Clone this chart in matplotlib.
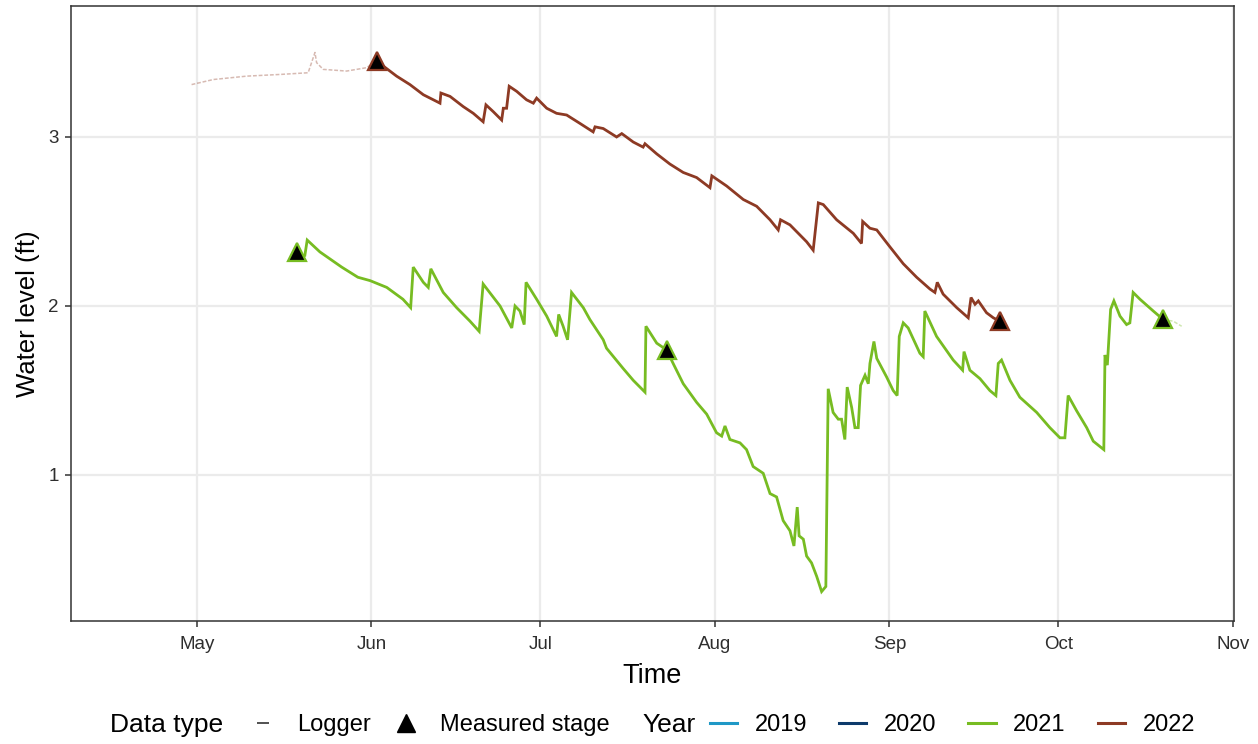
import numpy as np
import pandas as pd
import matplotlib
matplotlib.use("Agg")
import matplotlib.pyplot as plt
import matplotlib.dates as mdates
from matplotlib.lines import Line2D

plt.rcParams['font.family'] = ['Liberation Sans', 'DejaVu Sans']

# Logger record, 2021 season
logger_2021_time = [
    "2021-05-20 04:00", "2021-05-20 14:00", "2021-05-22 20:00", "2021-05-26 17:00",
    "2021-05-29 14:00", "2021-05-31 18:00", "2021-06-03 17:00", "2021-06-06 14:00",
    "2021-06-07 23:00", "2021-06-08 10:00", "2021-06-10 05:00", "2021-06-11 02:00",
    "2021-06-11 13:00", "2021-06-13 18:00", "2021-06-16 03:00", "2021-06-18 12:00",
    "2021-06-20 03:00", "2021-06-20 20:00", "2021-06-23 20:00", "2021-06-25 22:00",
    "2021-06-26 12:00", "2021-06-27 09:00", "2021-06-28 03:00", "2021-06-28 11:00",
    "2021-06-30 08:00", "2021-07-02 03:00", "2021-07-03 21:00", "2021-07-04 06:00",
    "2021-07-05 01:00", "2021-07-05 20:00", "2021-07-06 13:00", "2021-07-08 15:00",
    "2021-07-09 19:00", "2021-07-12 04:00", "2021-07-12 18:00", "2021-07-15 17:00",
    "2021-07-17 12:00", "2021-07-19 14:00", "2021-07-19 18:00", "2021-07-21 16:00",
    "2021-07-23 10:00", "2021-07-24 14:00", "2021-07-26 09:00", "2021-07-28 18:00",
    "2021-07-30 13:00", "2021-08-01 07:00", "2021-08-02 05:00", "2021-08-02 19:00",
    "2021-08-03 16:00", "2021-08-05 11:00", "2021-08-06 15:00", "2021-08-07 19:00",
    "2021-08-09 14:00", "2021-08-10 19:00", "2021-08-11 23:00", "2021-08-13 03:00",
    "2021-08-14 08:00", "2021-08-15 01:00", "2021-08-15 15:00", "2021-08-15 23:00",
    "2021-08-16 17:00", "2021-08-17 07:00", "2021-08-18 04:00", "2021-08-19 02:00",
    "2021-08-19 23:00", "2021-08-20 17:00", "2021-08-21 03:00", "2021-08-22 00:00",
    "2021-08-22 22:00", "2021-08-23 12:00", "2021-08-24 02:00", "2021-08-24 12:00",
    "2021-08-25 07:00", "2021-08-25 21:00", "2021-08-26 11:00", "2021-08-26 21:00",
    "2021-08-27 16:00", "2021-08-28 06:00", "2021-08-28 13:00", "2021-08-29 06:00",
    "2021-08-29 18:00", "2021-08-31 12:00", "2021-09-01 16:00", "2021-09-02 09:00",
    "2021-09-02 18:00", "2021-09-03 11:00", "2021-09-04 08:00", "2021-09-06 10:00",
    "2021-09-07 00:00", "2021-09-07 07:00", "2021-09-09 09:00", "2021-09-12 08:00",
    "2021-09-14 00:00", "2021-09-14 06:00", "2021-09-15 07:00", "2021-09-17 02:00",
    "2021-09-18 20:00", "2021-09-19 22:00", "2021-09-20 08:00", "2021-09-20 22:00",
    "2021-09-22 10:00", "2021-09-24 04:00", "2021-09-27 04:00", "2021-09-29 12:00",
    "2021-10-01 07:00", "2021-10-02 04:00", "2021-10-02 18:00", "2021-10-04 06:00",
    "2021-10-06 01:00", "2021-10-07 05:00", "2021-10-09 02:00", "2021-10-09 07:00",
    "2021-10-09 17:00", "2021-10-10 07:00", "2021-10-10 21:00", "2021-10-11 23:00",
    "2021-10-13 03:00", "2021-10-13 17:00", "2021-10-14 07:00", "2021-10-15 12:00",
    "2021-10-17 21:00", "2021-10-19 15:00", "2021-10-21 10:00", "2021-10-22 22:00",
]
logger_2021_level = [
    2.30, 2.39, 2.32, 2.23, 2.17, 2.15, 2.11, 2.04,
    1.99, 2.23, 2.14, 2.11, 2.22, 2.08, 1.99, 1.91,
    1.85, 2.13, 2.00, 1.87, 2.00, 1.97, 1.89, 2.14,
    2.04, 1.94, 1.82, 1.95, 1.88, 1.80, 2.08, 1.99,
    1.92, 1.80, 1.75, 1.63, 1.56, 1.49, 1.88, 1.78,
    1.74, 1.66, 1.54, 1.43, 1.36, 1.25, 1.23, 1.29,
    1.21, 1.19, 1.15, 1.05, 1.01, 0.89, 0.87, 0.73,
    0.67, 0.58, 0.81, 0.64, 0.62, 0.52, 0.48, 0.40,
    0.31, 0.34, 1.51, 1.37, 1.33, 1.33, 1.21, 1.52,
    1.40, 1.28, 1.28, 1.53, 1.59, 1.54, 1.66, 1.79,
    1.69, 1.58, 1.50, 1.47, 1.82, 1.90, 1.87, 1.72,
    1.70, 1.97, 1.82, 1.68, 1.62, 1.73, 1.62, 1.57,
    1.50, 1.47, 1.66, 1.68, 1.56, 1.46, 1.37, 1.28,
    1.22, 1.22, 1.47, 1.38, 1.28, 1.20, 1.15, 1.71,
    1.65, 1.98, 2.03, 1.94, 1.89, 1.90, 2.08, 2.04,
    1.97, 1.92, 1.91, 1.88,
]

# Logger record, 2022 season
logger_2022_time = [
    "2022-04-30 01:00", "2022-05-03 22:00", "2022-05-09 20:00", "2022-05-15 18:00",
    "2022-05-20 18:00", "2022-05-21 23:00", "2022-05-22 06:00", "2022-05-23 10:00",
    "2022-05-27 14:00", "2022-05-31 03:00", "2022-06-01 22:00", "2022-06-03 02:00",
    "2022-06-05 11:00", "2022-06-07 20:00", "2022-06-10 05:00", "2022-06-12 14:00",
    "2022-06-13 04:00", "2022-06-13 08:00", "2022-06-14 23:00", "2022-06-17 07:00",
    "2022-06-19 02:00", "2022-06-20 20:00", "2022-06-21 08:00", "2022-06-22 15:00",
    "2022-06-24 03:00", "2022-06-24 10:00", "2022-06-25 00:00", "2022-06-25 11:00",
    "2022-06-26 19:00", "2022-06-28 13:00", "2022-06-29 18:00", "2022-06-30 08:00",
    "2022-07-02 03:00", "2022-07-03 21:00", "2022-07-05 16:00", "2022-07-08 01:00",
    "2022-07-10 09:00", "2022-07-10 17:00", "2022-07-12 04:00", "2022-07-14 13:00",
    "2022-07-15 11:00", "2022-07-17 12:00", "2022-07-19 06:00", "2022-07-19 14:00",
    "2022-07-21 16:00", "2022-07-24 00:00", "2022-07-26 09:00", "2022-07-28 18:00",
    "2022-07-31 03:00", "2022-07-31 11:00", "2022-08-03 02:00", "2022-08-06 01:00",
    "2022-08-08 10:00", "2022-08-10 19:00", "2022-08-12 06:00", "2022-08-12 16:00",
    "2022-08-14 08:00", "2022-08-17 07:00", "2022-08-18 11:00", "2022-08-19 09:00",
    "2022-08-20 06:00", "2022-08-22 15:00", "2022-08-25 14:00", "2022-08-27 01:00",
    "2022-08-27 06:00", "2022-08-28 13:00", "2022-08-29 18:00", "2022-09-01 02:00",
    "2022-09-03 11:00", "2022-09-05 20:00", "2022-09-08 05:00", "2022-09-09 02:00",
    "2022-09-09 12:00", "2022-09-10 13:00", "2022-09-12 23:00", "2022-09-15 00:00",
    "2022-09-15 12:00", "2022-09-16 05:00", "2022-09-16 19:00", "2022-09-18 06:00",
    "2022-09-19 11:00", "2022-09-20 15:00",
]
logger_2022_level = [
    3.31, 3.34, 3.36, 3.37, 3.38, 3.50, 3.44, 3.40,
    3.39, 3.41, 3.45, 3.42, 3.36, 3.31, 3.25, 3.21,
    3.20, 3.26, 3.24, 3.18, 3.14, 3.09, 3.19, 3.15,
    3.10, 3.17, 3.17, 3.30, 3.27, 3.22, 3.20, 3.23,
    3.17, 3.14, 3.13, 3.08, 3.03, 3.06, 3.05, 3.00,
    3.02, 2.97, 2.94, 2.96, 2.90, 2.84, 2.79, 2.76,
    2.70, 2.77, 2.71, 2.63, 2.59, 2.51, 2.45, 2.51,
    2.48, 2.38, 2.33, 2.61, 2.60, 2.51, 2.43, 2.37,
    2.50, 2.46, 2.45, 2.35, 2.25, 2.17, 2.10, 2.08,
    2.14, 2.07, 1.99, 1.93, 2.05, 2.01, 2.03, 1.96,
    1.93, 1.91,
]

# Staff gauge readings
stage_2021_time = ["2021-05-18 17:00", "2021-07-23 10:00", "2021-10-19 15:00"]
stage_2021_level = [2.32, 1.74, 1.92]
stage_2022_time = ["2022-06-01 22:00", "2022-09-20 15:00"]
stage_2022_level = [3.45, 1.91]

years = ["2019", "2020", "2021", "2022"]
year_colors = {"2019": "#1f98c6", "2020": "#0d3a6b", "2021": "#77bc22", "2022": "#8d3a24"}


def season(times):
    # put every year on one common calendar so seasons overlay
    t = pd.to_datetime(pd.Series(times))
    return t.map(lambda d: d.replace(year=2000))


fig = plt.figure(figsize=(12.58, 7.44), dpi=100)
ax = fig.add_axes([71 / 1258, 1 - 621 / 744, 1163 / 1258, 615 / 744])

series = {
    "2021": (logger_2021_time, logger_2021_level, stage_2021_time, stage_2021_level),
    "2022": (logger_2022_time, logger_2022_level, stage_2022_time, stage_2022_level),
}

for yr, (lt, lv, st, sv) in series.items():
    col = year_colors[yr]
    t = season(lt)
    v = np.array(lv)
    ts = season(st)
    first, last = ts.min(), ts.max()
    inside = ((t >= first) & (t <= last)).values
    before = (t <= first).values
    after = (t >= last).values
    # logger data outside the gauged window is faded
    for mask in (before, after):
        if mask.sum() > 1:
            ax.plot(t[mask], v[mask], color=col, lw=1.1, alpha=0.35,
                    ls=(0, (2.5, 1.2)), zorder=2)
    ax.plot(t[inside], v[inside], color=col, lw=2.0, zorder=3,
            solid_joinstyle="miter")
    ax.plot(ts, sv, ls="none", marker="^", ms=13, mfc="black", mec=col,
            mew=1.6, zorder=5)

# axes styling
ax.set_xlim(pd.Timestamp("2000-04-08 15:00"), pd.Timestamp("2000-11-01 05:00"))
ax.set_ylim(0.136, 3.775)
months = pd.date_range("2000-05-01", "2000-11-01", freq="MS")
ax.set_xticks(months)
ax.xaxis.set_major_formatter(mdates.DateFormatter("%b"))
ax.set_yticks([1, 2, 3])
ax.grid(True, color="#ebebeb", lw=1.6, zorder=0)
ax.set_axisbelow(True)
for s in ax.spines.values():
    s.set_color("#333333")
    s.set_linewidth(1.1)
ax.tick_params(axis="both", colors="#333333", length=4, width=1.1,
               labelsize=13.5, labelcolor="#2e2e2e", pad=5)
ax.tick_params(axis="x", pad=7)
ax.set_xlabel("Time", fontsize=19.5, labelpad=7)
ax.set_ylabel("Water level (ft)", fontsize=18.5, labelpad=6)

# bottom legend: data type and year
ly = 1 - 725 / 744
fig.text(110 / 1258, ly, "Data type", fontsize=19, va="center", ha="left")
fig.text(642 / 1258, ly, "Year", fontsize=19, va="center", ha="left")

type_handles = [
    Line2D([], [], ls="none", marker="_", ms=8, mew=1.2, color="#333333"),
    Line2D([], [], ls="none", marker="^", ms=13, color="black"),
]
leg1 = fig.legend(type_handles, ["Logger", "Measured stage"], ncol=2,
                  loc="center left", bbox_to_anchor=(245 / 1258, ly),
                  frameon=False, fontsize=17, handlelength=1.5,
                  handletextpad=0.69, columnspacing=0.75, borderpad=0,
                  borderaxespad=0)

year_handles = [Line2D([], [], color=year_colors[y], lw=2.2) for y in years]
leg2 = fig.legend(year_handles, years, ncol=4, loc="center left",
                  bbox_to_anchor=(710 / 1258, ly), frameon=False, fontsize=17,
                  handlelength=1.15, handletextpad=0.75, columnspacing=1.35,
                  borderpad=0, borderaxespad=0)

fig.savefig("out.png", dpi=100)
